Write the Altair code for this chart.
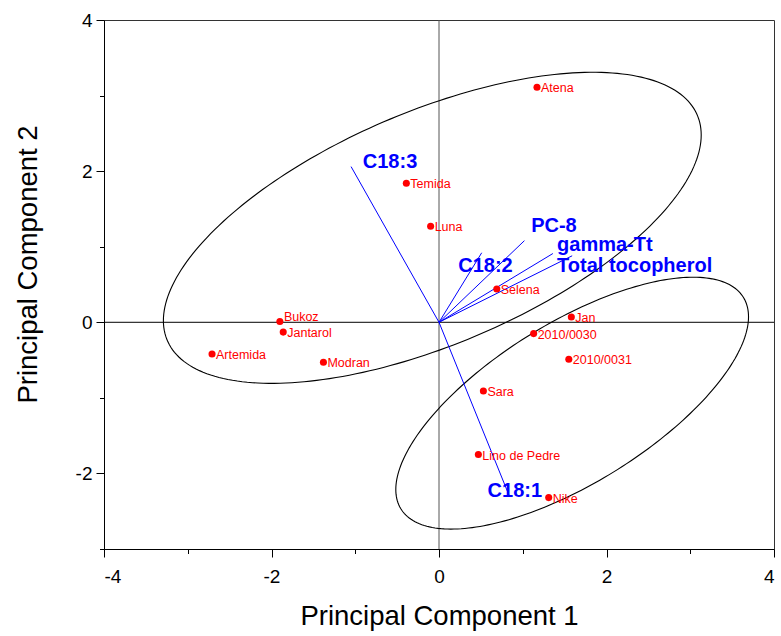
import numpy as np
import pandas as pd
import altair as alt

# Cultivar scores on the first two principal components
cultivars = ["Atena", "Temida", "Luna", "Selena", "Bukoz", "Jantarol", "Artemida",
             "Modran", "Jan", "2010/0030", "2010/0031", "Sara", "Lino de Pedre", "Nike"]
pc1 = [1.17, -0.39, -0.10, 0.69, -1.90, -1.86, -2.71, -1.38, 1.58, 1.13, 1.55, 0.53, 0.47, 1.31]
pc2 = [3.11, 1.84, 1.27, 0.44, 0.01, -0.13, -0.42, -0.53, 0.07, -0.15, -0.49, -0.91, -1.75, -2.32]

# Variable loadings (vector tips) and where their names sit
variables = ["C18:3", "C18:2", "PC-8", "gamma-Tt", "Total tocopherol", "C18:1"]
load1 = [-1.05, 0.51, 1.02, 1.36, 1.59, 0.84]
load2 = [2.06, 0.92, 1.08, 0.91, 0.88, -2.30]
name1 = [-0.91, 0.23, 1.10, 1.41, 1.41, 0.58]
name2 = [2.04, 0.67, 1.19, 0.94, 0.67, -2.31]

# Group ellipses: centre, semi-axes and tilt (degrees)
ell_group = ["A", "B"]
ell_cx = [-0.08, 1.59]
ell_cy = [1.25, -1.07]
ell_a = [3.50, 2.48]
ell_b = [1.515, 1.03]
ell_tilt = [26.2, 35.5]

FONT = "Liberation Sans"

pts = pd.DataFrame({"name": cultivars, "pc1": pc1, "pc2": pc2})
vec = pd.DataFrame({"var": variables, "x0": 0.0, "y0": 0.0,
                    "x": load1, "y": load2, "lx": name1, "ly": name2})
origin = pd.DataFrame({"o": [0.0]})

rows = []
t = np.linspace(0, 2 * np.pi, 241)
for g, cx, cy, a, b, ang in zip(ell_group, ell_cx, ell_cy, ell_a, ell_b, ell_tilt):
    th = np.deg2rad(ang)
    ex = cx + a * np.cos(t) * np.cos(th) - b * np.sin(t) * np.sin(th)
    ey = cy + a * np.cos(t) * np.sin(th) + b * np.sin(t) * np.cos(th)
    for i, (u, v) in enumerate(zip(ex, ey)):
        rows.append({"grp": g, "i": i, "ex": u, "ey": v})
ell = pd.DataFrame(rows)

xscale = alt.Scale(domain=[-4, 4], nice=False, zero=False)
yscale = alt.Scale(domain=[-3, 4], nice=False, zero=False)

# long ticks with plain-hyphen labels on even values, short unlabelled ticks between
minor_tick = {"condition": {"test": "datum.value % 2 !== 0", "value": 4.5}, "value": 8}
even_only = "datum.value % 2 === 0 ? '' + datum.value : ''"

xaxis = alt.Axis(values=list(range(-4, 5)), labelExpr=even_only,
                 tickSize=minor_tick, grid=False, title="Principal Component 1",
                 labelPadding=10, titlePadding=16)
yaxis = alt.Axis(values=list(range(-3, 5)), labelExpr=even_only,
                 tickSize=minor_tick, grid=False, title="Principal Component 2",
                 labelPadding=4, titlePadding=33, titleY=244)

base_x = alt.X("pc1:Q", scale=xscale, axis=xaxis)
base_y = alt.Y("pc2:Q", scale=yscale, axis=yaxis)

hline = alt.Chart(origin).mark_rule(color="black", strokeWidth=1).encode(
    y=alt.Y("o:Q", scale=yscale, axis=yaxis))
vline = alt.Chart(origin).mark_rule(color="#555555", strokeWidth=1).encode(
    x=alt.X("o:Q", scale=xscale, axis=xaxis))

ellipses = alt.Chart(ell).mark_line(color="black", strokeWidth=1.1).encode(
    x=alt.X("ex:Q", scale=xscale, axis=xaxis),
    y=alt.Y("ey:Q", scale=yscale, axis=yaxis),
    detail="grp:N",
    order="i:Q",
)

vectors = alt.Chart(vec).mark_rule(color="#0000FF", strokeWidth=1).encode(
    x=alt.X("x0:Q", scale=xscale, axis=xaxis),
    y=alt.Y("y0:Q", scale=yscale, axis=yaxis),
    x2="x:Q",
    y2="y:Q",
)

vec_names = alt.Chart(vec).mark_text(
    color="#0000FF", font=FONT, fontSize=20, fontWeight="bold",
    align="left", baseline="alphabetic",
).encode(
    x=alt.X("lx:Q", scale=xscale, axis=xaxis),
    y=alt.Y("ly:Q", scale=yscale, axis=yaxis),
    text="var:N",
)

dots = alt.Chart(pts).mark_circle(color="#FF0000", size=50, opacity=1).encode(
    x=base_x, y=base_y
)

label_style = dict(color="#FF0000", font=FONT, fontSize=12.5, align="left",
                   baseline="middle", dx=4)

# Bukoz sits right above Jantarol, so its name is lifted a little
dot_names = alt.Chart(pts).transform_filter(
    alt.datum.name != "Bukoz"
).mark_text(dy=1, **label_style).encode(x=base_x, y=base_y, text="name:N")

bukoz_name = alt.Chart(pts).transform_filter(
    alt.datum.name == "Bukoz"
).mark_text(dy=-5, **label_style).encode(x=base_x, y=base_y, text="name:N")

chart = alt.layer(
    hline, vline, ellipses, vectors, vec_names, dots, dot_names, bukoz_name
).properties(
    width=670,
    height=529,
    autosize=alt.AutoSizeParams(type="none"),
    padding={"left": 104, "top": 20, "right": 7, "bottom": 87},
    background="white",
).configure_view(
    stroke="#333333", strokeWidth=1
).configure_axis(
    labelFont=FONT, titleFont=FONT, labelFontSize=19, titleFontSize=27.5,
    titleFontWeight="normal", labelColor="black", titleColor="black",
    domainColor="black", tickColor="black", domainWidth=1, tickWidth=1,
)

chart.save("out.html", embed_options={"renderer": "svg", "actions": False})
